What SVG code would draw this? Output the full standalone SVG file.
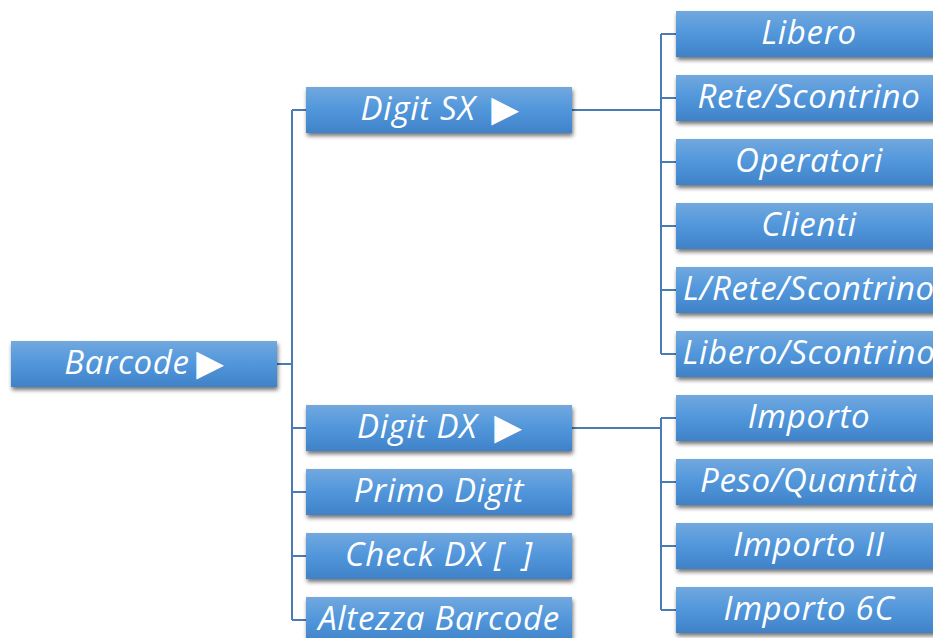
<svg xmlns="http://www.w3.org/2000/svg" width="933" height="638" viewBox="0 0 933 638">
<defs>
<linearGradient id="g" x1="0" y1="0" x2="0" y2="1">
<stop offset="0" stop-color="#72a8de"/>
<stop offset="0.45" stop-color="#5398dc"/>
<stop offset="1" stop-color="#3f82c9"/>
</linearGradient>
<filter id="sh" x="-10%" y="-20%" width="120%" height="160%">
<feGaussianBlur in="SourceAlpha" stdDeviation="2"/>
<feOffset dx="1" dy="3" result="b"/>
<feComponentTransfer><feFuncA type="linear" slope="0.55"/></feComponentTransfer>
<feMerge><feMergeNode/><feMergeNode in="SourceGraphic"/></feMerge>
</filter>
</defs>
<style>
.box{fill:url(#g);filter:url(#sh)}
.t{font-family:"Open Sans","DejaVu Sans",sans-serif;font-style:italic;font-size:33px;letter-spacing:0.7px;fill:#fff;text-anchor:middle}
.a{font-family:"DejaVu Sans",sans-serif;font-style:normal;font-size:36px;fill:#fff;text-anchor:middle}
.c{fill:none;stroke:#4a7bb2;stroke-width:2}
</style>
<rect width="933" height="638" fill="#fff"/>
<g id="connectors">
<path class="c" d="M277,364 H292 M292,110 V620 M292,110 H306 M292,428 H306 M292,492 H306 M292,556 H306 M292,620 H306"/>
<path class="c" d="M572,110 H661 M661,34 V354 M661,34 H676 M661,98 H676 M661,162 H676 M661,226 H676 M661,290 H676 M661,354 H676"/>
<path class="c" d="M572,428 H661 M661,418 V610 M661,418 H676 M661,482 H676 M661,546 H676 M661,610 H676"/>
</g>
<g id="barcode"><rect class="box" x="11" y="341" width="266" height="46"/><text class="t" x="127" y="374">Barcode</text><text class="a" x="210" y="375">▶</text></g>
<g id="digit-sx"><rect class="box" x="306" y="87" width="266" height="46"/><text class="t" x="418" y="120">Digit SX</text><text class="a" x="505" y="121">▶</text></g>
<g id="digit-dx"><rect class="box" x="306" y="405" width="266" height="46"/><text class="t" x="417" y="438">Digit DX</text><text class="a" x="508" y="439">▶</text></g>
<g id="primo-digit"><rect class="box" x="306" y="469" width="266" height="46"/><text class="t" x="439" y="502">Primo Digit</text></g>
<g id="check-dx"><rect class="box" x="306" y="533" width="266" height="46"/><text class="t" x="439" y="566" xml:space="preserve">Check DX [  ]</text></g>
<g id="altezza-barcode"><rect class="box" x="306" y="597" width="266" height="46"/><text class="t" x="439" y="630">Altezza Barcode</text></g>
<g id="libero"><rect class="box" x="676" y="11" width="266" height="46"/><text class="t" x="809" y="44">Libero</text></g>
<g id="rete-scontrino"><rect class="box" x="676" y="75" width="266" height="46"/><text class="t" x="809" y="108">Rete/Scontrino</text></g>
<g id="operatori"><rect class="box" x="676" y="139" width="266" height="46"/><text class="t" x="809" y="172">Operatori</text></g>
<g id="clienti"><rect class="box" x="676" y="203" width="266" height="46"/><text class="t" x="809" y="236">Clienti</text></g>
<g id="l-rete-scontrino"><rect class="box" x="676" y="267" width="266" height="46"/><text class="t" x="809" y="300">L/Rete/Scontrino</text></g>
<g id="libero-scontrino"><rect class="box" x="676" y="331" width="266" height="46"/><text class="t" x="809" y="364">Libero/Scontrino</text></g>
<g id="importo"><rect class="box" x="676" y="395" width="266" height="46"/><text class="t" x="809" y="428">Importo</text></g>
<g id="peso-quantita"><rect class="box" x="676" y="459" width="266" height="46"/><text class="t" x="809" y="492">Peso/Quantità</text></g>
<g id="importo-ii"><rect class="box" x="676" y="523" width="266" height="46"/><text class="t" x="809" y="556">Importo II</text></g>
<g id="importo-6c"><rect class="box" x="676" y="587" width="266" height="46"/><text class="t" x="809" y="620">Importo 6C</text></g>
</svg>
